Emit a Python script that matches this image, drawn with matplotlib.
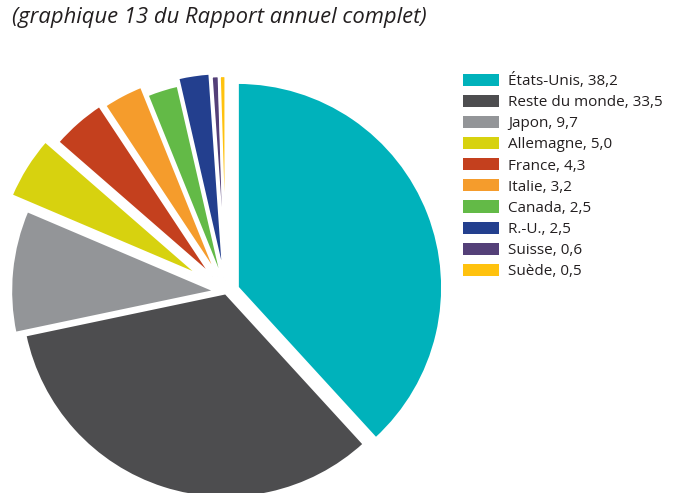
import matplotlib
matplotlib.use("Agg")
import matplotlib.pyplot as plt

# Répartition (%) - graphique 13
countries = ["États-Unis", "Reste du monde", "Japon", "Allemagne", "France",
             "Italie", "Canada", "R.-U.", "Suisse", "Suède"]
shares = [38.2, 33.5, 9.7, 5.0, 4.3, 3.2, 2.5, 2.5, 0.6, 0.5]
colors = ["#00B2BB", "#4D4D4F", "#939598", "#D7D20F", "#C4401E",
          "#F59C2C", "#63BA47", "#233F8E", "#544078", "#FFC20E"]
explode = [0.06, 0.005, 0.05, 0.15, 0.10, 0.085, 0.035, 0.07, 0.055, 0.055]

labels = [c + ", " + f"{v:.1f}".replace(".", ",") for c, v in zip(countries, shares)]

W, H = 682, 493
fig = plt.figure(figsize=(W / 100, H / 100), dpi=100)
ax = fig.add_axes([0, 0, 1, 1])

wedges, _ = ax.pie(shares, colors=colors, explode=explode, startangle=90,
                   counterclock=False, radius=1.0,
                   wedgeprops=dict(edgecolor="white", linewidth=2))

# pie centre at (226, 292) px, radius 205 px
cx, cy, r = 226, 292, 205
ax.set_xlim(-cx / r, (W - cx) / r)
ax.set_ylim(-(H - cy) / r, cy / r)
ax.set_aspect("auto")
ax.axis("off")

fig.text(12 / W, 1 - 17 / H, "(graphique 13 du Rapport annuel complet)",
         fontsize=15.8, style="italic", family="Open Sans", color="#231F20",
         va="center", ha="left")

leg = fig.legend(wedges, labels, loc="upper left",
                 bbox_to_anchor=(463 / W, 1 - 73 / H),
                 frameon=False, prop=dict(family="Open Sans", size=11),
                 handlelength=2.35, handleheight=0.85, handletextpad=0.6,
                 labelspacing=0.376, borderaxespad=0, borderpad=0)
for t in leg.get_texts():
    t.set_color("#231F20")
for h in leg.legend_handles:
    h.set_linewidth(0)

fig.savefig("out.png", dpi=100)
